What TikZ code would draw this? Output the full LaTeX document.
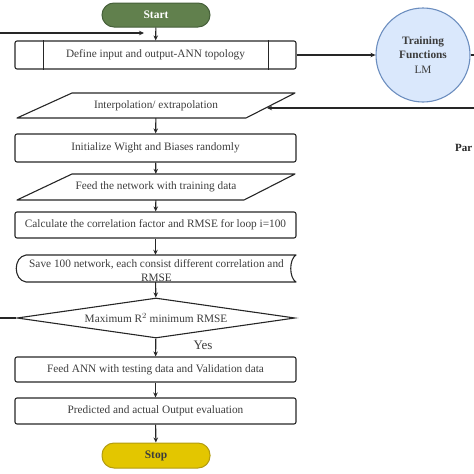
\documentclass[tikz,border=0pt]{standalone}
\usepackage{fontspec}
\setmainfont{Liberation Serif}
\usetikzlibrary{shapes.geometric,arrows.meta}
\definecolor{startg}{HTML}{61804D}
\definecolor{startd}{HTML}{46603A}
\definecolor{stopy}{HTML}{E3C600}
\definecolor{stopd}{HTML}{B39C10}
\definecolor{circf}{HTML}{DAE8FC}
\definecolor{circd}{HTML}{6C8EBF}
\definecolor{txt}{HTML}{3C3C3C}
\begin{document}
\begin{tikzpicture}[x=1pt,y=-1pt,
  lbl/.style={font=\fontsize{11.3}{14}\selectfont, text=txt},
  box/.style={lbl, draw=black!85, line width=1.1pt, rounded corners=2pt, minimum width=281pt, inner sep=0pt},
  plain/.style={lbl, inner sep=0pt, minimum width=0pt},
  shp/.style={draw=black!85, line width=1.1pt, line join=round},
  term/.style={font=\fontsize{11.5}{13}\selectfont\bfseries, rounded corners=12pt, minimum width=108pt, line width=1pt, inner sep=0pt},
  conn/.style={draw=black!85, line width=1.1pt},
  arr/.style={conn, -{Stealth[length=5pt,width=4.5pt]}}
]
\useasboundingbox (0,0) rectangle (474,474);
% terminals
\node[term, fill=startg, draw=startd, text=white, minimum height=24pt] (start) at (156,15) {Start};
\node[term, fill=stopy, draw=stopd, text=txt, minimum height=25pt] (stop) at (156,455.5) {Stop};
% define (predefined process)
\node[box, minimum height=28pt] (define) at (155.5,55) {Define input and output-ANN topology};
\draw[shp] ([xshift=29pt]define.north west) -- ([xshift=29pt]define.south west);
\draw[shp] ([xshift=-28pt]define.north east) -- ([xshift=-28pt]define.south east);
% training functions
\node[circle, draw=circd, fill=circf, line width=1.1pt, minimum size=94pt, inner sep=0pt, align=center, text=txt,
  font=\fontsize{11.3}{14.5}\selectfont] (train) at (423,55) {\textbf{Training}\\\textbf{Functions}\\LM};
% interpolation parallelogram
\draw[shp] (17,118) -- (72,93) -- (295,93) -- (246,118) -- cycle;
\node[plain, minimum height=25pt] (interp) at (156,105.5) {Interpolation/ extrapolation};
\coordinate (interpR) at (267,108);
% initialize
\node[box, minimum height=28pt] (init) at (155.5,148) {Initialize Wight and Biases randomly};
% feed parallelogram
\draw[shp] (17,200) -- (72,174) -- (295,174) -- (244,200) -- cycle;
\node[plain, minimum height=26pt] (feed) at (156,187) {Feed the network with training data};
% calculate
\node[box, minimum height=26pt] (calc) at (155.5,225) {Calculate the correlation factor and RMSE for loop i=100};
% save (stored data)
\draw[shp] (26,255) -- (296,255) .. controls (289,259) and (289,278) .. (296,282) -- (26,282)
  .. controls (13,280) and (13,257) .. (26,255) -- cycle;
\node[plain, minimum height=27pt] (save) at (155.5,268.5) {};
\node[plain, align=center] (savet) at (156.5,271) {Save 100 network, each consist different correlation and\\RMSE};
% decision
\node[shape=diamond, draw=black!85, line width=1.1pt, minimum width=278pt, minimum height=40pt, inner sep=0pt, aspect=7, lbl] (dec) at (156,318) {Maximum R$^{2}$ minimum RMSE};
\node[lbl, font=\fontsize{13}{15}\selectfont] (yes) at (203,345) {Yes};
% feed ANN, predicted
\node[box, minimum height=25pt] (feedann) at (155.5,369.5) {Feed ANN with testing data and Validation data};
\node[box, minimum height=26pt] (pred) at (155.5,411) {Predicted and actual Output evaluation};
% partial label at right edge
\node[lbl, font=\fontsize{11}{13}\selectfont\bfseries, text=black!85, anchor=west, inner sep=0pt] (par) at (455,148) {Par};
% free ends
\coordinate (trainout) at (480,55);
\coordinate (retin) at (480,108);
\coordinate (loopin) at (-5,33);
\coordinate (loopend) at (144,33);
\coordinate (loopout) at (-5,318);
% connectors
\draw[arr] (start) -- (define);
\draw[arr] (define) -- (train);
\draw[conn] (train.east) -- (trainout);
\draw[arr] (retin) -- (interpR);
\draw[arr] (loopin) -- (loopend);
\draw[conn] (dec.west) -- (loopout);
\draw[arr] (interp) -- (init);
\draw[arr] (init) -- (feed);
\draw[arr] (feed) -- (calc);
\draw[arr] (calc) -- (save);
\draw[arr] (save) -- (dec);
\draw[arr] (dec) -- (feedann);
\draw[arr] (feedann) -- (pred);
\draw[arr] (pred) -- (stop);
\end{tikzpicture}
\end{document}
